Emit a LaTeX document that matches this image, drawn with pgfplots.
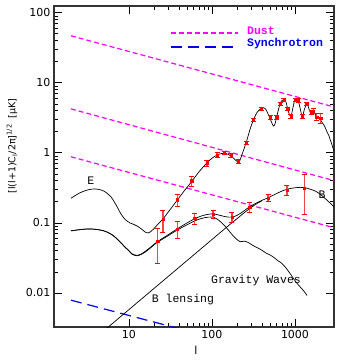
\documentclass[border=0pt]{standalone}
\usepackage{fontspec}
\setmainfont{DejaVu Sans}
\newfontfamily\labfont{Liberation Mono}
\usepackage{pgfplots}
\pgfplotsset{compat=1.18}
\definecolor{dustcol}{RGB}{255,0,255}
\definecolor{synccol}{RGB}{0,0,235}
\definecolor{errred}{RGB}{240,70,70}

\begin{document}
\begin{tikzpicture}
\begin{axis}[
  xmode=log, ymode=log,
  scale only axis, width=280pt, height=321pt,
  xmin=1.25, xmax=2950, ymin=0.00327, ymax=125,
  xtick={10,100,1000}, xticklabels={10,100,1000},
  ytick={0.01,0.1,1,10,100}, yticklabels={0.01,0.1,1,10,100},
  major tick length=8pt, minor tick length=4pt,
  tick style={black, line width=0.8pt},
  axis line style={black!80, line width=1.2pt},
  tick label style={font=\fontsize{11}{13}\selectfont},
  /pgf/number format/assume math mode=true,
  clip mode=individual,
]
% dust and synchrotron foregrounds
\addplot[forget plot, dustcol, line width=1.2pt, dash pattern=on 5pt off 3pt] coordinates {(2,47)(3000,4.5)};
\addplot[forget plot, synccol, line width=1.2pt, dash pattern=on 11pt off 6pt] coordinates {(2,0.0079)(40,0.0031)};
\addplot[forget plot, dustcol, line width=1.2pt, dash pattern=on 5pt off 3pt] coordinates {(2,4.25)(3000,0.40)};
\addplot[forget plot, dustcol, line width=1.2pt, dash pattern=on 5pt off 3pt] coordinates {(2,0.88)(3000,0.085)};

% E mode
\addplot[forget plot, black, line width=0.7pt, smooth, tension=0.5] coordinates {
 (2,0.225)(2.5,0.265)(3,0.29)(3.5,0.303)(4,0.305)(4.5,0.298)(5,0.285)(6,0.24)(7,0.18)
 (8,0.135)(9,0.112)(10.3,0.1)(11.5,0.095)(13,0.088)(14.5,0.08)(16,0.073)(17,0.072)
 (18.5,0.076)(20,0.083)(22.5,0.097)(25.7,0.114)(30,0.145)(38,0.21)(45,0.275)(57,0.39)
 (70,0.54)(87,0.72)(100,0.84)(115,0.93)(130,0.98)(140,0.99)(155,0.96)(170,0.9)(190,0.8)
 (206,0.74)(215,0.76)(230,0.95)(258,1.4)(285,2.1)(315,2.95)(350,3.8)(390,4.3)(420,4.4)
 (450,4.1)(500,3.1)(550,2.42)(580,2.7)(602,3.3)(660,5.0)(700,5.6)(740,5.8)(780,5.3)
 (817,4.2)(860,3.5)(895,3.3)(940,4.3)(990,5.6)(1040,5.9)(1096,5.5)(1160,4.2)(1224,3.3)
 (1300,4.2)(1384,5.0)(1460,4.4)(1540,3.7)(1620,3.9)(1680,4.0)(1760,3.5)(1840,3.2)
 (1950,3.1)(2050,2.9)(2150,2.65)(2250,2.45)(2350,2.2)(2450,1.95)(2550,1.78)(2650,1.55)
 (2750,1.38)(2850,1.2)(3000,1.0)};

% B total
\addplot[forget plot, black, line width=0.7pt, smooth, tension=0.5] coordinates {
 (2,0.077)(2.5,0.08)(3.2,0.082)(4,0.081)(5,0.077)(6,0.07)(7,0.061)(8,0.052)(9,0.045)
 (10,0.04)(11,0.036)(12.5,0.0345)(14,0.036)(16,0.04)(19,0.047)(22,0.054)(28,0.065)
 (38,0.082)(50,0.1)(62,0.115)(75,0.126)(90,0.133)(105,0.134)(120,0.13)(140,0.124)
 (160,0.121)(180,0.122)(200,0.128)(230,0.142)(260,0.158)(300,0.177)(350,0.195)(400,0.21)
 (470,0.228)(550,0.25)(650,0.275)(750,0.295)(850,0.308)(1000,0.318)(1150,0.322)
 (1300,0.32)(1500,0.305)(1700,0.29)(1900,0.27)(2200,0.235)(2500,0.205)(2800,0.18)(3000,0.165)};

% gravity waves
\addplot[forget plot, black, line width=0.7pt, smooth, tension=0.5] coordinates {
 (2,0.077)(2.5,0.08)(3.2,0.082)(4,0.081)(5,0.077)(6,0.07)(7,0.061)(8,0.052)(9,0.045)
 (10,0.04)(11,0.0355)(12.5,0.034)(14,0.0355)(16,0.039)(19,0.046)(22,0.053)(28,0.063)
 (38,0.079)(50,0.094)(62,0.107)(75,0.116)(90,0.121)(105,0.12)(120,0.11)(140,0.093)
 (155,0.081)(175,0.068)(200,0.058)(220,0.054)(245,0.055)(270,0.053)(300,0.049)(330,0.046)
 (370,0.043)(410,0.04)(450,0.037)(500,0.035)(560,0.032)(620,0.029)(680,0.027)(750,0.024)
 (820,0.021)(900,0.018)(1000,0.015)(1100,0.013)(1250,0.011)(1400,0.0092)};

% B lensing
\addplot[forget plot, black, line width=0.7pt, smooth, tension=0.5] coordinates {
 (5,0.0029)(10,0.0058)(20,0.0116)(50,0.029)(100,0.058)(150,0.087)(200,0.115)
 (250,0.143)(300,0.168)(350,0.19)(400,0.207)};

% E data
\addplot[forget plot, red, only marks, mark=square*, mark size=1.2pt,
  error bars/.cd, y dir=both, y explicit,
  error bar style={errred, line width=1.1pt},
  error mark options={rotate=90, red, mark size=2.5pt, line width=0.9pt}] coordinates {
 (25.7,0.112) +- (0,0.04) (38,0.215) +- (0,0.043) (57,0.4) +- (0,0.065)
 (87,0.72) +- (0,0.07) (115,0.93) +- (0,0.07) (140,1.0) +- (0,0.06)
 (169,0.91) +- (0,0.06) (207,0.76) +- (0,0.05) (258,1.40) +- (0,0.08)
 (315,2.93) +- (0,0.15) (390,4.3) +- (0,0.2) (500,3.25) +- (0,0.2)
 (602,3.25) +- (0,0.2) (660,5.05) +- (0,0.25) (736,5.75) +- (0,0.3)
 (817,4.25) +- (0,0.25) (895,3.35) +- (0,0.2) (1018,5.75) +- (0,0.3)
 (1096,5.6) +- (0,0.3) (1224,3.35) +- (0,0.2) (1384,5.0) +- (0,0.3)
 (1560,3.75) +- (0,0.25) (1662,3.95) +- (0,0.3) (1820,3.25) +- (0,0.35)
 (2040,3.1) +- (0,0.5)};

% B data
\addplot[forget plot, red, only marks, mark=square*, mark size=1.2pt,
  error bars/.cd, y dir=both, y explicit,
  error bar style={errred, line width=1.1pt},
  error mark options={rotate=90, red, mark size=2.5pt, line width=0.9pt}] coordinates {
 (22.3,0.055) +- (0,0.029) (38,0.082) +- (0,0.022) (62,0.116) +- (0,0.021)
 (103,0.134) +- (0,0.018) (174,0.12) +- (0,0.02) (285,0.168) +- (0,0.025)
 (473,0.226) +- (0,0.025) (800,0.296) +- (0,0.05) (1290,0.316) +- (0,0.183)};

% legend
\draw[dustcol, line width=1.4pt, dash pattern=on 5pt off 3pt] (rel axis cs:0.418,0.916) -- (rel axis cs:0.657,0.916);
\draw[synccol, line width=1.4pt, dash pattern=on 11pt off 6pt] (rel axis cs:0.418,0.872) -- (rel axis cs:0.657,0.872);
\node[anchor=west, inner sep=0pt, text=dustcol, font=\labfont\bfseries\fontsize{11.5}{13}\selectfont] at (rel axis cs:0.689,0.922) {Dust};
\node[anchor=west, inner sep=0pt, text=synccol, font=\labfont\bfseries\fontsize{11.5}{13}\selectfont] at (rel axis cs:0.689,0.882) {Synchrotron};

\node[font=\labfont\fontsize{11.5}{13}\selectfont] at (axis cs:3.48,0.398) {E};
\node[font=\labfont\fontsize{11.5}{13}\selectfont] at (axis cs:2114,0.251) {B};
\node[font=\labfont\fontsize{11.5}{13}\selectfont] at (axis cs:339,0.0149) {Gravity Waves};
\node[font=\labfont\fontsize{11.5}{13}\selectfont] at (axis cs:44.7,0.0082) {B lensing};
\node[rotate=90, font=\fontsize{9.5}{11}\selectfont] at ([xshift=-42pt]rel axis cs:0,0.564)
  {[l(l+1)C\textsubscript{l}/2π]\textsuperscript{1/2}\ \ [μK]};
\node[font=\fontsize{11}{13}\selectfont] at ([yshift=-23pt]rel axis cs:0.507,0) {l};
\end{axis}
\pgfresetboundingbox
\path[use as bounding box] (-54pt,-33pt) rectangle (290pt,327pt);
\end{tikzpicture}
\end{document}
